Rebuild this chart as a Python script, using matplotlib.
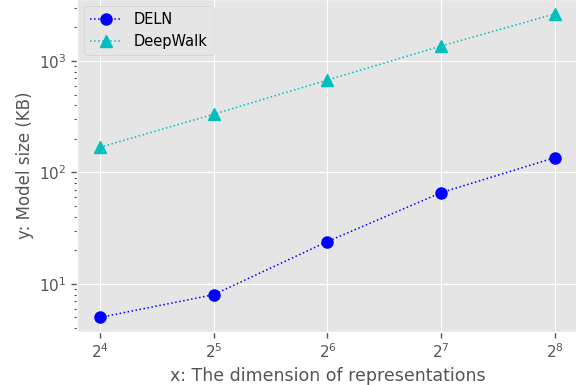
import matplotlib
matplotlib.use("Agg")
import matplotlib.pyplot as plt

plt.style.use("ggplot")

dims = [16, 32, 64, 128, 256]
deln = [5.0, 8.0, 24.0, 66.0, 136.0]
deepwalk = [168.0, 333.0, 675.0, 1365.0, 2650.0]

fig = plt.figure(figsize=(5.76, 3.85), dpi=100)
ax = fig.add_axes([77/576, 53/385, 501/576, 333/385])
ax.plot(dims, deln, 'b:', marker='o', markersize=8, linewidth=1.1, label='DELN')
ax.plot(dims, deepwalk, 'c:', marker='^', markersize=8, linewidth=1.1, label='DeepWalk')
ax.set_xscale('log', base=2)
ax.set_yscale('log')
ax.set_xticks(dims)
ax.set_ylim(3.7, 3600)
ax.tick_params(which='major', direction='out', color='#555555', length=4, width=1, labelsize=11)
ax.tick_params(which='minor', direction='out', color='#555555', length=2, width=0.8)
ax.set_xlabel('x: The dimension of representations', fontsize=12.5)
ax.set_ylabel('y: Model size (KB)', fontsize=12)
ax.legend(loc='upper left', fontsize=10.5, handlelength=2.2)
fig.savefig('out.png', dpi=100)
